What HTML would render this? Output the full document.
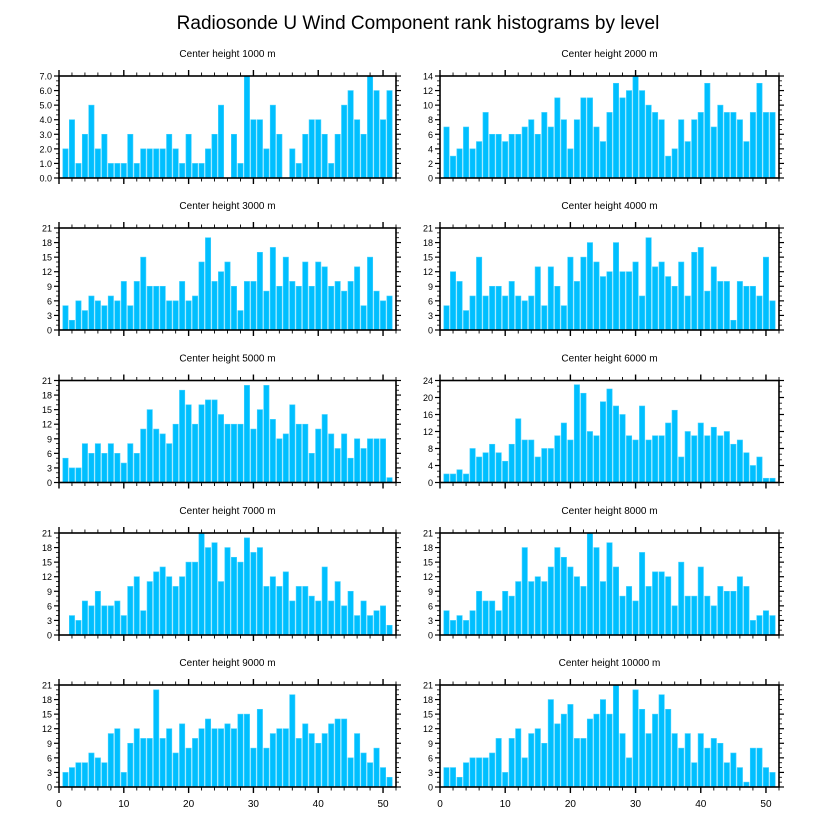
<!DOCTYPE html>
<html><head><meta charset="utf-8"><style>
body{margin:0;background:#fff;}
svg{display:block;font-family:"Liberation Sans",sans-serif;}
</style></head><body>
<svg id="chart" width="818" height="824" viewBox="0 0 818 824">
<text x="418" y="29" font-size="19" text-anchor="middle" fill="#000">Radiosonde U Wind Component rank histograms by level</text>
</svg>
<script>
const levels = [1000,2000,3000,4000,5000,6000,7000,8000,9000,10000];
const yMaxes = [7,14,21,21,21,24,21,21,21,21];
const ySteps = [1,2,3,3,3,4,3,3,3,3];
const xTicks = [0,10,20,30,40,50];
const h1000 = [2,4,1,3,5,2,3,1,1,1,3,1,2,2,2,2,3,2,1,3,1,1,2,3,5,0,3,1,7,4,4,2,5,3,0,2,1,3,4,4,3,1,3,5,6,4,3,7,6,4,6];
const h2000 = [7,3,4,7,4,5,9,6,6,5,6,6,7,8,6,9,7,11,8,4,8,11,11,7,5,9,13,11,12,14,12,10,9,8,3,4,8,5,8,9,13,7,10,9,9,8,5,9,13,9,9];
const h3000 = [5,2,6,4,7,6,5,7,6,10,5,10,15,9,9,9,6,6,10,6,7,14,19,10,12,14,9,4,10,10,16,8,17,9,15,10,9,14,9,14,13,9,10,8,10,13,5,15,8,6,7];
const h4000 = [5,12,10,4,7,15,7,9,9,7,10,7,6,7,13,5,13,9,5,15,10,15,18,14,11,12,18,12,12,14,7,19,13,14,11,9,14,7,16,17,8,13,10,10,2,10,9,9,7,15,6];
const h5000 = [5,3,3,8,6,8,6,8,6,4,8,6,11,15,11,10,8,12,19,16,12,16,17,17,14,12,12,12,20,11,15,20,13,9,10,16,12,12,6,11,14,10,7,10,5,9,7,9,9,9,1];
const h6000 = [2,2,3,2,8,6,7,9,7,5,9,15,10,10,6,8,8,11,14,10,23,21,12,11,19,22,18,16,11,10,18,10,11,11,14,17,6,12,11,14,11,13,11,12,9,10,7,4,6,1,1];
const h7000 = [0,4,3,7,6,9,6,6,7,4,10,12,5,11,13,14,12,10,12,15,15,21,18,19,11,18,16,15,20,17,18,10,12,10,13,7,10,10,8,7,14,7,11,6,9,4,7,4,5,6,2];
const h8000 = [5,3,4,3,5,9,7,7,5,9,8,11,18,11,12,11,14,18,16,14,12,10,21,18,11,19,14,8,10,7,17,10,13,13,12,6,15,8,8,14,8,6,10,9,9,12,10,3,4,5,4];
const h9000 = [3,4,5,5,7,6,5,11,12,3,9,12,10,10,20,10,12,7,13,8,10,12,14,12,12,13,12,15,15,8,16,8,11,12,12,19,10,13,11,9,11,13,14,14,6,11,7,5,8,4,2];
const h10000 = [4,4,2,5,6,6,6,7,10,3,10,12,6,11,12,9,18,13,15,17,10,10,14,15,18,15,21,11,6,20,16,11,15,19,16,11,8,11,5,11,8,10,9,5,7,4,1,8,8,4,3];
const series = [h1000,h2000,h3000,h4000,h5000,h6000,h7000,h8000,h9000,h10000];

const NS = "http://www.w3.org/2000/svg";
const svg = document.getElementById('chart');
function mk(tag, attrs, parent){
  const e = document.createElementNS(NS, tag);
  for (const k in attrs) e.setAttribute(k, attrs[k]);
  (parent||svg).appendChild(e);
  return e;
}
const colX = [[59,396],[440,779]];
const rowTop = [76,228,380.5,533,685];
const ph = 102;
const xMax = 52;

series.forEach((vals, i) => {
  const col = i % 2, row = Math.floor(i/2);
  const x0 = colX[col][0], x1 = colX[col][1];
  const y0 = rowTop[row], yb = y0 + ph;
  const ymax = yMaxes[i], step = ySteps[i];
  const sx = v => x0 + (v/xMax)*(x1-x0);
  const sy = v => yb - (v/ymax)*ph;
  const g = mk('g', {});
  
  
  const t = mk('text', {x:(x0+x1)/2, y:y0-19, 'font-size':10, 'text-anchor':'middle', fill:'#000'}, g);
  t.textContent = 'Center height ' + levels[i] + ' m';
  
  
  const bw = (x1-x0)/xMax*0.82;
  vals.forEach((v, j) => {
    if (v <= 0) return;
    const r = mk('rect', {x:sx(j+1)-bw/2, y:sy(v), width:bw, height:yb-sy(v), fill:'#00bfff', stroke:'#3dd0ff', 'stroke-width':0.6}, g);
    
    
  });
  const fr = mk('rect', {x:x0, y:y0, width:x1-x0, height:ph, fill:'none', stroke:'#000', 'stroke-width':1.6}, g);
  
  
  // x ticks
  for (let v=0; v<=xMax; v+=2){
    const major = v % 10 === 0;
    const L = major ? 6 : 3.5;
    const x = sx(v);
    mk('line', {x1:x, y1:yb, x2:x, y2:yb+L, stroke:'#000', 'stroke-width':major?1.4:0.9}, g);
    mk('line', {x1:x, y1:y0, x2:x, y2:y0-L, stroke:'#000', 'stroke-width':major?1.4:0.9}, g);
  }
  if (row === 4){
    xTicks.forEach(v => {
      const tl = mk('text', {x:sx(v), y:yb+20, 'font-size':10, 'text-anchor':'middle', fill:'#000'}, g);
      tl.textContent = v;
      
      
    });
  }
  // y ticks
  const minor = step/3;
  for (let k=0; k<=Math.round(ymax/minor); k++){
    const v = k*minor;
    const major = k % 3 === 0;
    const L = major ? 5 : 3;
    const y = sy(v);
    mk('line', {x1:x0, y1:y, x2:x0-L, y2:y, stroke:'#000', 'stroke-width':major?1.2:0.8}, g);
    mk('line', {x1:x1, y1:y, x2:x1+L, y2:y, stroke:'#000', 'stroke-width':major?1.2:0.8}, g);
  }
  for (let v=0; v<=ymax; v+=step){
    const yl = mk('text', {x:x0-7, y:sy(v)+3.5, 'font-size':9, 'text-anchor':'end', fill:'#000'}, g);
    yl.textContent = ymax === 7 ? v.toFixed(1) : v;
    
    
  }
});
</script>
</body></html>
